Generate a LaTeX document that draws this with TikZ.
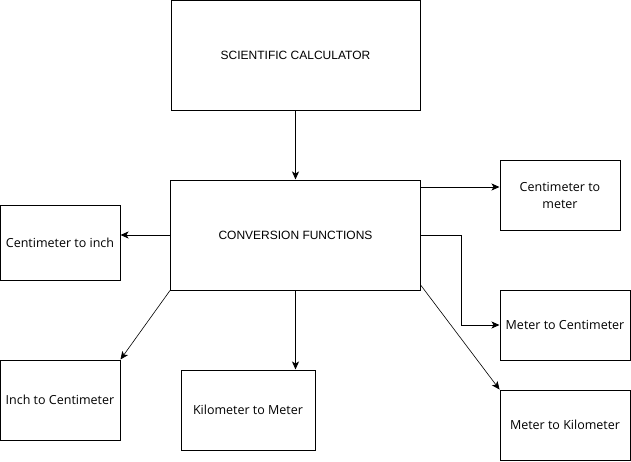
\documentclass[tikz,border=0pt]{standalone}
\usepackage{fontspec}
\setmainfont{Open Sans}
\newfontfamily\capsfont{Liberation Sans}
\usetikzlibrary{arrows.meta}

\begin{document}
\begin{tikzpicture}[x=1pt,y=-1pt,
        box/.style={draw,line width=1pt,align=center,inner sep=0pt,
            font=\fontsize{12.5}{17}\selectfont},
        head/.style={box,font=\capsfont\fontsize{12}{14}\selectfont},
        tip/.style={-{Stealth[length=8pt,width=7pt,inset=2pt]}}]
        \useasboundingbox (0,0) rectangle (631,461);

        % Boxes
        \node [head,minimum width=249,minimum height=110] (calc) at (295.5,55)
            {SCIENTIFIC CALCULATOR};
        \node [head,minimum width=250,minimum height=110] (conv) at (295.5,235)
            {CONVERSION FUNCTIONS};
        \node [box,minimum width=120,minimum height=75] (cmin) at (60,242.5)
            {Centimeter to inch};
        \node [box,minimum width=120,minimum height=70] (cmm) at (560,195)
            {Centimeter to\\meter};
        \node [box,minimum width=130,minimum height=70] (mcm) at (565,325)
            {Meter to Centimeter};
        \node [box,minimum width=120,minimum height=80] (incm) at (60,400)
            {Inch to Centimeter};
        \node [box,minimum width=134,minimum height=80] (kmm) at (248,410)
            {Kilometer to Meter};
        \node [box,minimum width=130,minimum height=70] (mkm) at (565,425)
            {Meter to Kilometer};

        % Connectors
        \draw [tip,line width=1pt] (calc) -- (conv);
        \draw [tip,line width=1pt] ([yshift=48]conv.east) --
            ([yshift=48]conv.east -| cmm.west);
        \draw [tip,line width=1pt] (conv.east) -- ++(40,0) |- (mcm.west);
        \draw [tip,line width=1pt] (conv.west) -- (conv.west -| cmin.east);
        \draw [tip,line width=0.6pt] (conv.south west) -- (incm.north east);
        \draw [tip,line width=1pt] (conv.south) -- (conv.south |- kmm.north);
        \draw [tip,line width=0.6pt] ([yshift=5]conv.south east) -- (mkm.north west);
    \end{tikzpicture}
\end{document}
